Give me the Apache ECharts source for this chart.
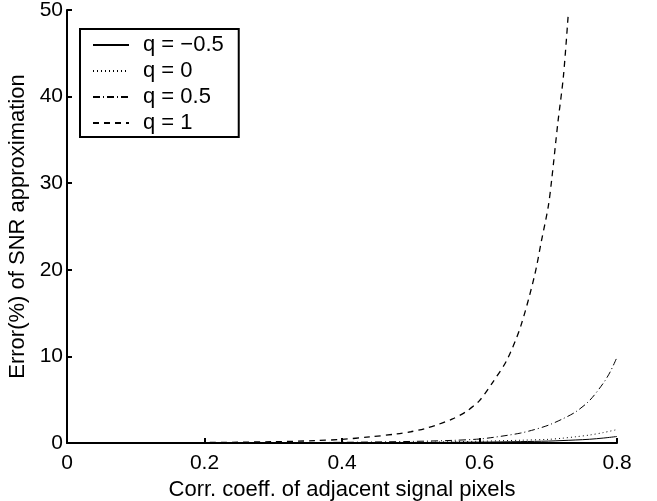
<!DOCTYPE html>
<html><head><meta charset="utf-8">
<script src="https://cdn.jsdelivr.net/npm/echarts@6/dist/echarts.min.js"></script>
<style>html,body{margin:0;padding:0;background:#fff}#c{width:657px;height:501px}</style>
</head><body><div id="c"></div>
<script>
const xTicks = [0, 0.2, 0.4, 0.6, 0.8];
const yTicks = [0, 10, 20, 30, 40, 50];
const seriesNames = ['q = \u22120.5', 'q = 0', 'q = 0.5', 'q = 1'];

const xNeg05 = [0, 0.2, 0.4, 0.5, 0.6, 0.66, 0.7, 0.72, 0.74, 0.76, 0.78, 0.8];
const yNeg05 = [0, 0.005, 0.02, 0.05, 0.1, 0.16, 0.22, 0.28, 0.35, 0.43, 0.57, 0.75];

const xQ0 = [0, 0.2, 0.4, 0.5, 0.6, 0.66, 0.7, 0.72, 0.74, 0.76, 0.78, 0.8];
const yQ0 = [0, 0.01, 0.03, 0.07, 0.2, 0.32, 0.42, 0.55, 0.72, 0.92, 1.2, 1.55];

const xQ05 = [0, 0.2, 0.3, 0.4, 0.5, 0.56, 0.6, 0.62, 0.64, 0.66, 0.68, 0.7, 0.72, 0.74, 0.76, 0.78, 0.79, 0.8];
const yQ05 = [0, 0.01, 0.03, 0.08, 0.18, 0.3, 0.46, 0.65, 0.88, 1.15, 1.55, 2.05, 2.75, 3.6, 4.9, 6.9, 8.2, 9.9];

const xQ1 = [0, 0.1, 0.2, 0.3, 0.36, 0.4, 0.44, 0.48, 0.5, 0.52, 0.54, 0.56, 0.58, 0.6, 0.62, 0.64, 0.66, 0.68, 0.69, 0.7, 0.705, 0.714, 0.722, 0.729];
const yQ1 = [0, 0.02, 0.05, 0.15, 0.27, 0.42, 0.7, 1.05, 1.3, 1.65, 2.15, 2.75, 3.6, 4.9, 7.1, 9.6, 13.5, 19.3, 23.3, 27.3, 30.4, 37, 42.3, 49.4];

const zip = (a, b) => a.map((v, i) => [v, b[i]]);
const FONT = 'Liberation Sans';

const mk = (name, xs, ys, type, w) => ({
  name, type: 'line', data: zip(xs, ys), symbol: 'none', smooth: 0.3,
  lineStyle: { color: '#000', width: w, type },
  itemStyle: { color: '#000' }, clip: true
});

const chart = echarts.init(document.getElementById('c'), null, { renderer: 'canvas' });
chart.setOption({
  animation: false,
  backgroundColor: '#fff',
  textStyle: { fontFamily: FONT, color: '#000' },
  grid: { left: 67, right: 40, top: 10, bottom: 58, containLabel: false, outerBoundsMode: 'none' },
  xAxis: {
    type: 'value', min: xTicks[0], max: xTicks[xTicks.length - 1], interval: 0.2,
    name: 'Corr. coeff. of adjacent signal pixels', nameLocation: 'middle', nameGap: 29,
    nameTextStyle: { fontFamily: FONT, fontSize: 22, color: '#000' },
    axisLine: { lineStyle: { color: '#000', width: 2 } },
    axisTick: { inside: true, length: 5, lineStyle: { color: '#000', width: 2 } },
    axisLabel: { fontFamily: FONT, fontSize: 21, color: '#000', margin: 10,
      formatter: v => xTicks.includes(+v.toFixed(1)) ? String(+v.toFixed(1)) : '' },
    splitLine: { show: false }
  },
  yAxis: {
    type: 'value', min: yTicks[0], max: yTicks[yTicks.length - 1], interval: 10,
    name: 'Error(%) of SNR approximation', nameLocation: 'middle', nameGap: 12,
    nameTextStyle: { fontFamily: FONT, fontSize: 22, color: '#000' },
    axisLine: { lineStyle: { color: '#000', width: 2 } },
    axisTick: { inside: true, length: 5, lineStyle: { color: '#000', width: 2 } },
    axisLabel: { fontFamily: FONT, fontSize: 21, color: '#000', margin: 4 },
    splitLine: { show: false }
  },
  legend: {
    orient: 'vertical', left: 80, top: 29,
    data: seriesNames,
    backgroundColor: '#fff', borderColor: '#000', borderWidth: 2, borderRadius: 0,
    padding: [5, 15, 3, 12], itemWidth: 36, itemHeight: 18, itemGap: 4,
    itemStyle: { opacity: 0 },
    textStyle: { fontFamily: FONT, fontSize: 22, color: '#000', padding: [0, 0, 0, 9] },
    selectedMode: false
  },
  series: [
    mk(seriesNames[0], xNeg05, yNeg05, 'solid', 1),
    mk(seriesNames[1], xQ0, yQ0, [1, 3], 1),
    mk(seriesNames[2], xQ05, yQ05, [7, 3, 1, 3], 1),
    mk(seriesNames[3], xQ1, yQ1, [6, 5], 1.3)
  ]
});
</script></body></html>
